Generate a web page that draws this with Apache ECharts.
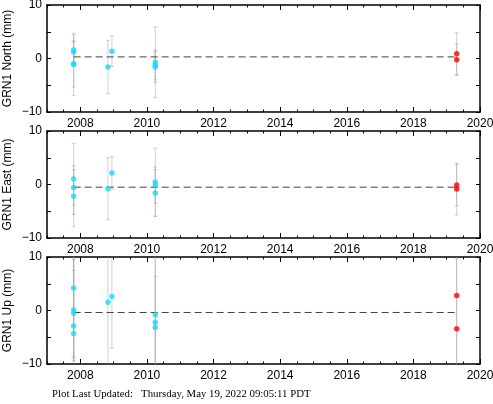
<!DOCTYPE html>
<html>
<head>
<meta charset="utf-8">
<title>GRN1</title>
<script src="https://cdn.jsdelivr.net/npm/echarts@6/dist/echarts.min.js"></script>
<style>html,body{margin:0;padding:0;background:#fff;}</style>
</head>
<body>
<div id="main" style="width:493px;height:404px;"></div>
<script type="text/javascript">
// North component (mm)
var northTime = [2007.8, 2007.8, 2007.8, 2007.8, 2008.83, 2008.95, 2010.25, 2010.25, 2010.25];
var northVal  = [1.6, 1.2, -1.0, -1.1, -1.6, 1.35, -0.7, -1.2, -1.6];
var northErr  = [2.8, 1.9, 4.3, 5.8, 5.0, 2.85, 6.6, 2.8, 2.9];
var northNewTime = [2019.3, 2019.3];
var northNewVal  = [0.9, -0.25];
var northNewErr  = [3.9, 2.95];
var northMean = 0.3;

// East component (mm)
var eastTime = [2007.8, 2007.8, 2007.8, 2008.83, 2008.95, 2010.25, 2010.25, 2010.25];
var eastVal  = [1.05, -0.55, -2.2, -0.8, 2.15, 0.45, -0.1, -1.6];
var eastErr  = [6.65, 3.3, 5.7, 5.8, 3.05, 6.35, 3.4, 4.4];
var eastNewTime = [2019.3, 2019.3];
var eastNewVal  = [-0.1, -0.85];
var eastNewErr  = [3.9, 4.85];
var eastMean = -0.5;

// Up component (mm)
var upTime = [2007.8, 2007.8, 2007.8, 2007.8, 2007.8, 2008.83, 2008.95, 2010.25, 2010.25, 2010.25];
var upVal  = [4.2, 0.1, -0.5, -2.9, -4.3, 1.55, 2.6, -0.8, -2.2, -3.2];
var upErr  = [13, 9.4, 8.0, 14, 15, 14, 9.7, 14, 14, 9.6];
var upNewTime = [2019.3, 2019.3];
var upNewVal  = [2.8, -3.4];
var upNewErr  = [13, 13];
var upMean = -0.37;

var yearLabels = [2008, 2010, 2012, 2014, 2016, 2018, 2020];
var panelNames = ['GRN1 North (mm)', 'GRN1 East (mm)', 'GRN1 Up (mm)'];

var panels = [
    {t: northTime, v: northVal, e: northErr, nt: northNewTime, nv: northNewVal, ne: northNewErr, mean: northMean},
    {t: eastTime, v: eastVal, e: eastErr, nt: eastNewTime, nv: eastNewVal, ne: eastNewErr, mean: eastMean},
    {t: upTime, v: upVal, e: upErr, nt: upNewTime, nv: upNewVal, ne: upNewErr, mean: upMean}
];
var tops = [5, 131, 257];
var panelHeight = 107;

function zip(t, v, e) {
    var out = [];
    for (var i = 0; i < t.length; i++) out.push([t[i], v[i], e[i]]);
    return out;
}

function errorBars(params, api) {
    var x = api.value(0), y = api.value(1), e = api.value(2);
    var hi = api.coord([x, y + e]);
    var lo = api.coord([x, y - e]);
    var w = 2;
    var style = {stroke: 'rgba(165,165,165,0.5)', lineWidth: 1};
    return {
        type: 'group',
        children: [
            {type: 'line', shape: {x1: hi[0], y1: hi[1], x2: lo[0], y2: lo[1]}, style: style},
            {type: 'line', shape: {x1: hi[0] - w, y1: hi[1], x2: hi[0] + w, y2: hi[1]}, style: style},
            {type: 'line', shape: {x1: lo[0] - w, y1: lo[1], x2: lo[0] + w, y2: lo[1]}, style: style}
        ]
    };
}

var grid = [], xAxis = [], yAxis = [], series = [], graphic = [];

panels.forEach(function (p, i) {
    // loose outer bounds so the 2020 label at the edge does not squeeze the grid
    grid.push({left: 47, right: 13, top: tops[i], height: panelHeight,
               outerBounds: {left: -40, right: -40, top: -40, bottom: -40}});

    // bottom: labelled 2-year ticks, then half-year minor ticks; top: mirror of both
    ['bottom', 'top'].forEach(function (pos) {
        xAxis.push({
            type: 'value', gridIndex: i, position: pos, min: 2007, max: 2020,
            axisLine: {show: true, onZero: false, lineStyle: {color: '#000', width: 1.5}},
            axisTick: {inside: true, length: 5, customValues: yearLabels, lineStyle: {color: '#000'}},
            axisLabel: {show: pos === 'bottom', customValues: yearLabels, margin: 6,
                        color: '#000', fontSize: 12, fontFamily: 'Liberation Sans',
                        formatter: function (v) { return String(v); }},
            splitLine: {show: false}
        });
        xAxis.push({
            type: 'value', gridIndex: i, position: pos, min: 2007, max: 2020, interval: 0.5,
            axisLine: {show: false, onZero: false},
            axisTick: {inside: true, length: 2.5, lineStyle: {color: '#000'}},
            axisLabel: {show: false},
            splitLine: {show: false}
        });
    });

    yAxis.push({
        type: 'value', gridIndex: i, position: 'left', min: -10, max: 10, interval: 5,
        axisLine: {show: true, onZero: false, lineStyle: {color: '#000', width: 1.5}},
        axisTick: {inside: true, length: 4, lineStyle: {color: '#000'}},
        axisLabel: {
            margin: 5, color: '#000', fontSize: 12, fontFamily: 'Liberation Sans',
            formatter: function (v) { return v % 10 === 0 ? String(v).replace('-', '\u2212') : ''; }
        },
        splitLine: {show: false}
    });
    yAxis.push({
        type: 'value', gridIndex: i, position: 'right', min: -10, max: 10, interval: 5,
        axisLine: {show: true, onZero: false, lineStyle: {color: '#000', width: 1.5}},
        axisTick: {inside: true, length: 4, lineStyle: {color: '#000'}},
        axisLabel: {show: false},
        splitLine: {show: false}
    });

    // rotated y title, placed by hand so the grid keeps its size
    graphic.push({
        type: 'text', x: 8, y: tops[i] + panelHeight / 2, rotation: Math.PI / 2,
        style: {text: panelNames[i], fill: '#000', font: '12px "Liberation Sans"',
                textAlign: 'center', textVerticalAlign: 'middle'}
    });

    var xi = i * 4, yi = i * 2;
    series.push({
        type: 'custom', xAxisIndex: xi, yAxisIndex: yi, clip: true,
        renderItem: errorBars, encode: {x: 0, y: 1},
        data: zip(p.t, p.v, p.e).concat(zip(p.nt, p.nv, p.ne)), z: 1
    });
    series.push({
        type: 'line', xAxisIndex: xi, yAxisIndex: yi, showSymbol: false, silent: true,
        lineStyle: {color: '#404040', width: 1, type: [7, 4]},
        data: [[p.t[0], p.mean], [p.nt[0], p.mean]], z: 2
    });
    series.push({
        type: 'scatter', xAxisIndex: xi, yAxisIndex: yi, symbolSize: 5.5,
        itemStyle: {color: '#19d9f9'},
        data: zip(p.t, p.v, p.e).map(function (d) { return [d[0], d[1]]; }), z: 3
    });
    series.push({
        type: 'scatter', xAxisIndex: xi, yAxisIndex: yi, symbolSize: 5.5,
        itemStyle: {color: '#ff0000'},
        data: zip(p.nt, p.nv, p.ne).map(function (d) { return [d[0], d[1]]; }), z: 3
    });
});

graphic.push({
    type: 'text', left: 52, top: 389,
    style: {
        text: 'Plot Last Updated:   Thursday, May 19, 2022 09:05:11 PDT',
        font: '10.8px "Liberation Serif"', fill: '#000'
    }
});

var myChart = echarts.init(document.getElementById('main'));
myChart.setOption({
    animation: false,
    backgroundColor: '#fff',
    grid: grid,
    xAxis: xAxis,
    yAxis: yAxis,
    series: series,
    graphic: graphic
});
</script>
</body>
</html>
